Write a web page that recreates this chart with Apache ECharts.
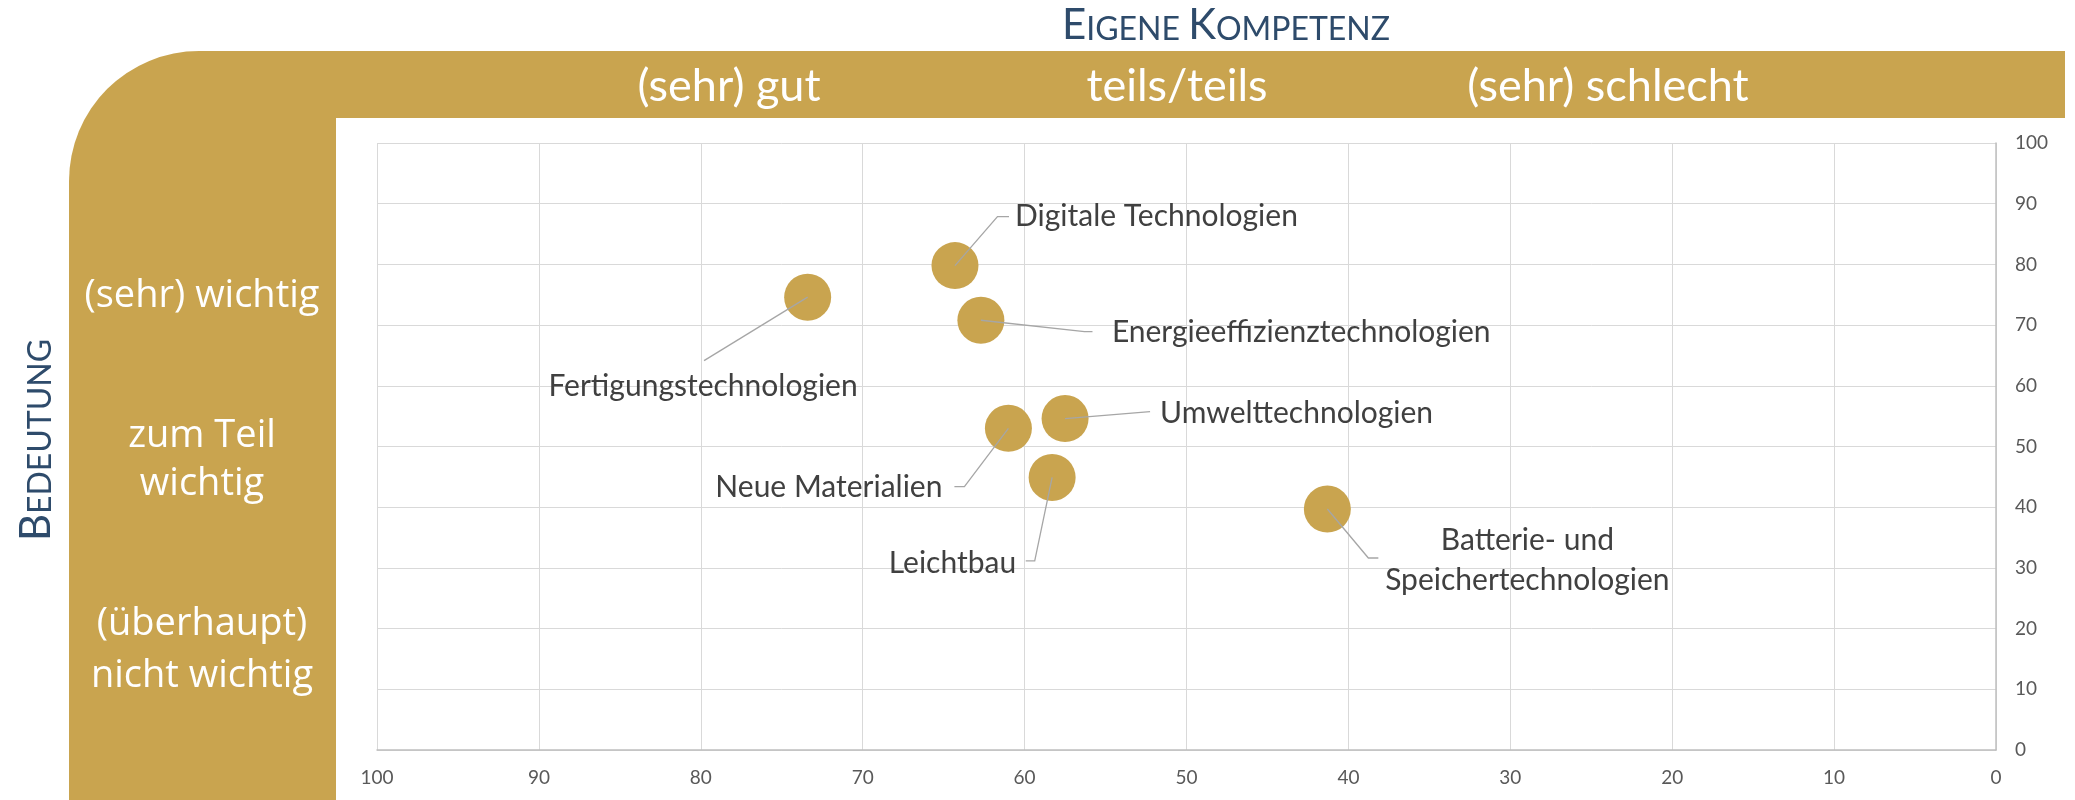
<!DOCTYPE html>
<html>
<head>
<meta charset="utf-8">
<script src="https://cdn.jsdelivr.net/npm/echarts@6/dist/echarts.min.js"></script>
<style>
html,body{margin:0;padding:0;background:#fff;}
#chart{width:2075px;height:800px;}
</style>
</head>
<body>
<div id="chart"></div>
<script>
// ---- data ----
var names = ['Digitale Technologien','Fertigungstechnologien','Energieeffizienztechnologien','Umwelttechnologien','Neue Materialien','Leichtbau','Batterie- und\nSpeichertechnologien'];
var kompetenz = [64.3, 73.4, 62.7, 57.5, 61.0, 58.3, 41.3];   // x: eigene Kompetenz
var bedeutung = [79.8, 74.6, 70.8, 54.6, 53.0, 44.9, 39.7];   // y: Bedeutung
var xTicks = [0,10,20,30,40,50,60,70,80,90,100];
var yTicks = [0,10,20,30,40,50,60,70,80,90,100];
var kompLabels = ['(sehr) gut','teils/teils','(sehr) schlecht'];
var bedLabels = ['(sehr) wichtig','zum Teil\nwichtig','(überhaupt)\nnicht wichtig'];

// ---- label callout layout (pixel offsets from bubble centre) ----
var callouts = [
  {pts:[[42.5,-49],[54,-49]], tx:60, ty:-49, align:'left'},
  {pts:[[-103.6,63.4]], tx:-104.6, ty:89.4, align:'center'},
  {pts:[[103.6,11.4],[111.6,11.4]], tx:131, ty:12, align:'left'},
  {pts:[[85,-7]], tx:95, ty:-5, align:'left'},
  {pts:[[-44,58.4],[-54,58.4]], tx:-66, ty:58.7, align:'right'},
  {pts:[[-17.4,83.4],[-26.4,83.4]], tx:-36, ty:85.5, align:'right'},
  {pts:[[41,49],[51,49]], tx:200, ty:51, align:'center'}
];

var GOLD = '#C9A44F';
var BLUE = '#2E4B6B';
var LBL_FONT = 'Lato';

var points = names.map(function(n,i){ return [kompetenz[i], bedeutung[i], n]; });

var chart = echarts.init(document.getElementById('chart'), null, {renderer:'canvas'});

var option = {
  backgroundColor:'#fff',
  animation:false,
  grid:{left:377, right:79, top:143, bottom:50, containLabel:false},
  xAxis:{
    type:'value', inverse:true, min:xTicks[0], max:xTicks[xTicks.length-1], interval:10,
    position:'bottom',
    axisLine:{show:true, lineStyle:{color:'#BFBFBF', width:1.5}},
    axisTick:{show:false},
    splitLine:{show:true, lineStyle:{color:'#D9D9D9', width:1}},
    axisLabel:{color:'#595959', fontSize:19, fontFamily:LBL_FONT, margin:18}
  },
  yAxis:{
    type:'value', min:yTicks[0], max:yTicks[yTicks.length-1], interval:10,
    position:'right',
    axisLine:{show:true, lineStyle:{color:'#BFBFBF', width:1.5}},
    axisTick:{show:false},
    splitLine:{show:true, lineStyle:{color:'#D9D9D9', width:1}},
    axisLabel:{color:'#595959', fontSize:19, fontFamily:LBL_FONT, margin:19}
  },
  graphic:[
    {type:'rect', shape:{x:69, y:51, width:267, height:749, r:[130,0,0,0]}, style:{fill:GOLD}, silent:true},
    {type:'rect', shape:{x:200, y:51, width:1865, height:67}, style:{fill:GOLD}, silent:true},
    {type:'text', x:1226, y:46, silent:true, style:{
      text:'{c|E}{s|IGENE }{c|K}{s|OMPETENZ}', align:'center', verticalAlign:'bottom',
      rich:{c:{fontSize:42, fontFamily:LBL_FONT, fill:BLUE, verticalAlign:'bottom'}, s:{fontSize:32, fontFamily:LBL_FONT, fill:BLUE, verticalAlign:'bottom'}}
    }},
    {type:'text', x:36, y:440, rotation:Math.PI/2, silent:true, style:{
      text:'{c|B}{s|EDEUTUNG}', align:'center', verticalAlign:'middle',
      rich:{c:{fontSize:42, fontFamily:LBL_FONT, fill:BLUE, verticalAlign:'bottom'}, s:{fontSize:32, fontFamily:LBL_FONT, fill:BLUE, verticalAlign:'bottom'}}
    }},
    {type:'text', x:729, y:86, silent:true, style:{text:kompLabels[0], fill:'#fff', font:'45px Lato', align:'center', verticalAlign:'middle'}},
    {type:'text', x:1177, y:86, silent:true, style:{text:kompLabels[1], fill:'#fff', font:'45px Lato', align:'center', verticalAlign:'middle'}},
    {type:'text', x:1608, y:86, silent:true, style:{text:kompLabels[2], fill:'#fff', font:'45px Lato', align:'center', verticalAlign:'middle'}},
    {type:'text', x:202, y:296, silent:true, style:{text:bedLabels[0], fill:'#fff', font:'38px "Open Sans"', lineHeight:48, align:'center', verticalAlign:'middle'}},
    {type:'text', x:202, y:460, silent:true, style:{text:bedLabels[1], fill:'#fff', font:'38px "Open Sans"', lineHeight:48, align:'center', verticalAlign:'middle'}},
    {type:'text', x:202, y:650, silent:true, style:{text:bedLabels[2], fill:'#fff', font:'38px "Open Sans"', lineHeight:52, align:'center', verticalAlign:'middle'}}
  ],
  series:[
    {
      type:'scatter',
      data:points,
      symbol:'circle',
      symbolSize:47,
      itemStyle:{color:GOLD, opacity:1},
      z:2,
      silent:true
    },
    {
      type:'custom',
      data:points,
      z:3,
      silent:true,
      renderItem:function(params, api){
        var i = params.dataIndex;
        var c = api.coord([api.value(0), api.value(1)]);
        var L = callouts[i];
        var pts = [[c[0], c[1]]].concat(L.pts.map(function(p){ return [c[0]+p[0], c[1]+p[1]]; }));
        return {
          type:'group',
          children:[
            {type:'polyline', shape:{points:pts}, style:{stroke:'#A6A6A6', lineWidth:1.3, fill:null}},
            {type:'text', x:c[0]+L.tx, y:c[1]+L.ty, style:{text:names[i], fill:'#404040', font:'30px Lato', lineHeight:40, align:L.align, verticalAlign:'middle'}}
          ]
        };
      }
    }
  ]
};
chart.setOption(option);
</script>
</body>
</html>
